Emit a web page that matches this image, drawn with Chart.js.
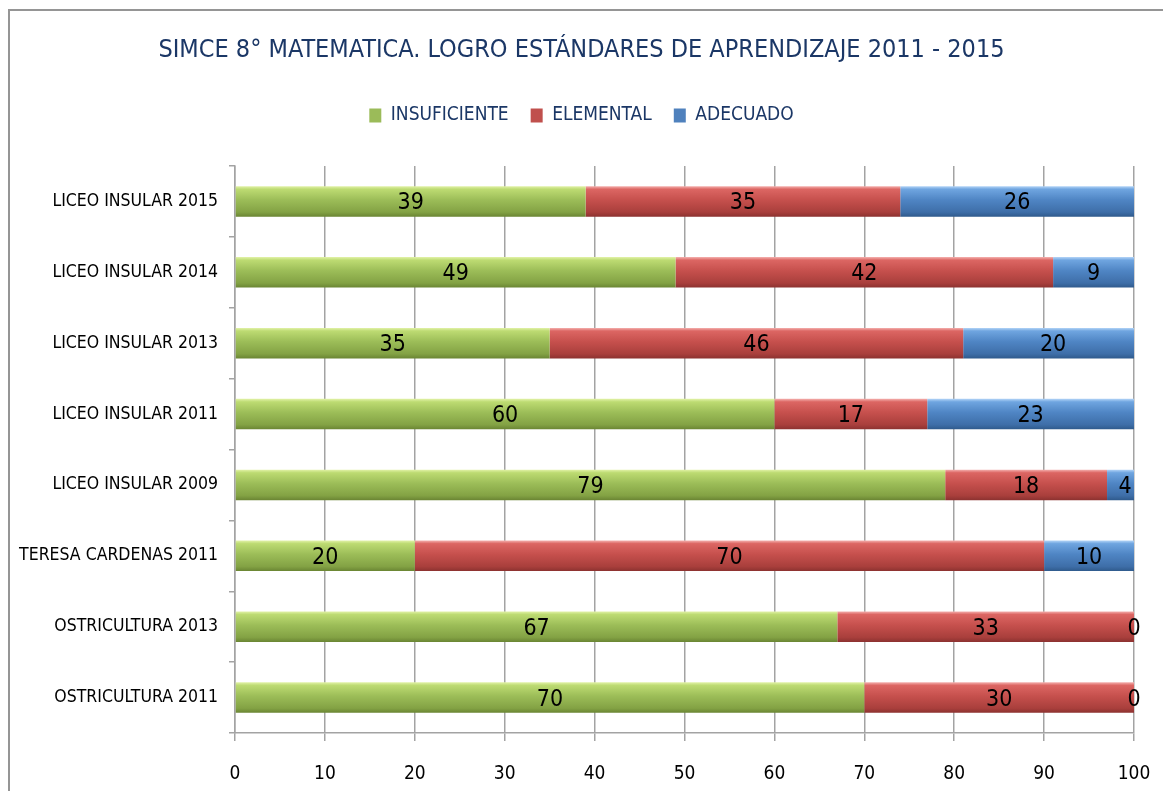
<!DOCTYPE html>
<html>
<head>
<meta charset="utf-8">
<script src="https://cdn.jsdelivr.net/npm/chart.js@4/dist/chart.umd.min.js"></script>
<style>
  html, body { margin: 0; padding: 0; background: #fff; overflow: hidden; }
  #frame { position: absolute; left: 8px; top: 9px; width: 2000px; height: 2000px;
           border-left: 2px solid #959595; border-top: 2px solid #959595; }
  #wrap { position: absolute; left: 0; top: 0; width: 1163px; height: 791px; }
</style>
</head>
<body>
<div id="frame"></div>
<div id="wrap"><canvas id="simce"></canvas></div>
<script>
// datos (porcentajes por nivel de logro)
var categorias = ["LICEO INSULAR 2015", "LICEO INSULAR 2014", "LICEO INSULAR 2013", "LICEO INSULAR 2011",
                  "LICEO INSULAR 2009", "TERESA CARDENAS 2011", "OSTRICULTURA 2013", "OSTRICULTURA 2011"];
var insuficiente = [39, 49, 35, 60, 79, 20, 67, 70];
var elemental    = [35, 42, 46, 17, 18, 70, 33, 30];
var adecuado     = [26, 9, 20, 23, 4, 10, 0, 0];
var ticksX = [0, 10, 20, 30, 40, 50, 60, 70, 80, 90, 100];

var FONT = "'Liberation Sans Narrow', 'DejaVu Sans Condensed', sans-serif";
var CAT_PCT = 0.43;
var planos = ['#9bbb59', '#c0504d', '#4f81bd'];

// degradado tipo Excel para cada barra
function degradado(stops, plano) {
    return function (context) {
        var chart = context.chart;
        var y = chart.scales.y;
        if (context.type !== 'data' || !y || !chart.chartArea) return plano;
        var c = y.getPixelForValue(context.dataIndex);
        var half = Math.abs(y.getPixelForValue(1) - y.getPixelForValue(0)) * CAT_PCT / 2;
        var g = chart.ctx.createLinearGradient(0, c - half, 0, c + half);
        stops.forEach(function (s) { g.addColorStop(s[0], s[1]); });
        return g;
    };
}

var verde = degradado([[0, '#e2f2a8'], [0.1, '#bddb72'], [0.45, '#9cbd58'], [0.85, '#83a244'], [1, '#6a8533']], planos[0]);
var rojo  = degradado([[0, '#f4b0ae'], [0.1, '#dc6663'], [0.45, '#c6504d'], [0.85, '#a93f3c'], [1, '#8c3230']], planos[1]);
var azul  = degradado([[0, '#b3d4f7'], [0.1, '#6fa5e0'], [0.45, '#4f85c4'], [0.85, '#3e6ea8'], [1, '#2f5a8c']], planos[2]);

var etiquetas = {
    id: 'etiquetas',
    beforeLayout: function (chart) {
        // espacio extra bajo la leyenda
        var lg = chart.legend;
        if (lg && !lg._extra) {
            var fit = lg.fit;
            lg.fit = function () { fit.call(this); this.height += 31; };
            lg._extra = true;
        }
    },
    afterDatasetsDraw: function (chart) {
        var ctx = chart.ctx;
        ctx.save();
        ctx.font = '23px ' + FONT;
        ctx.fillStyle = '#000';
        ctx.textAlign = 'center';
        ctx.textBaseline = 'middle';
        chart.data.datasets.forEach(function (ds, i) {
            chart.getDatasetMeta(i).data.forEach(function (bar, j) {
                var cx = Math.min((bar.x + bar.base) / 2, chart.chartArea.right + 1);
                ctx.fillText(String(ds.data[j]), cx, bar.y + 2);
            });
        });
        ctx.restore();
    }
};

new Chart(document.getElementById('simce').getContext('2d'), {
    type: 'bar',
    data: {
        labels: categorias,
        datasets: [
            { label: 'INSUFICIENTE', data: insuficiente, backgroundColor: verde },
            { label: 'ELEMENTAL', data: elemental, backgroundColor: rojo },
            { label: 'ADECUADO', data: adecuado, backgroundColor: azul }
        ]
    },
    options: {
        indexAxis: 'y',
        responsive: true,
        maintainAspectRatio: false,
        animation: false,
        datasets: { bar: { barPercentage: 1, categoryPercentage: CAT_PCT, borderWidth: 0 } },
        layout: { padding: { left: 0, right: 0, top: 0, bottom: 0 } },
        plugins: {
            title: {
                display: true,
                text: 'SIMCE 8° MATEMATICA. LOGRO ESTÁNDARES DE APRENDIZAJE 2011 - 2015',
                color: '#1b3766',
                font: { family: FONT, size: 25, weight: 'normal' },
                padding: { top: 35, bottom: 19 }
            },
            legend: {
                display: true,
                position: 'top',
                labels: {
                    color: '#1b3766',
                    font: { family: FONT, size: 19 },
                    boxWidth: 12,
                    boxHeight: 14,
                    padding: 22,
                    generateLabels: function (chart) {
                        return chart.data.datasets.map(function (ds, i) {
                            return { text: ds.label, fillStyle: planos[i], strokeStyle: planos[i],
                                     lineWidth: 0, fontColor: '#1b3766', datasetIndex: i, hidden: false };
                        });
                    }
                }
            },
            tooltip: { enabled: false }
        },
        scales: {
            x: {
                stacked: true,
                min: 0,
                max: 100,
                afterBuildTicks: function (scale) {
                    scale.ticks = ticksX.map(function (v) { return { value: v }; });
                },
                afterFit: function (scale) {
                    scale.height = 58;
                    scale.paddingLeft = 0;
                    scale.paddingRight = 29;
                },
                grid: { color: '#a3a3a3', lineWidth: 1.5, tickLength: 8 },
                border: { color: '#a3a3a3', width: 1.5 },
                ticks: { color: '#000', font: { family: FONT, size: 19 }, padding: 22, maxRotation: 0 }
            },
            y: {
                stacked: true,
                afterFit: function (scale) { scale.width = 235; },
                grid: { offset: true, drawOnChartArea: false, color: '#a3a3a3', lineWidth: 1.5, tickLength: 6 },
                border: { color: '#a3a3a3', width: 1.5 },
                ticks: { color: '#000', font: { family: FONT, size: 17.5 }, padding: 11 }
            }
        }
    },
    plugins: [etiquetas]
});
</script>
</body>
</html>
